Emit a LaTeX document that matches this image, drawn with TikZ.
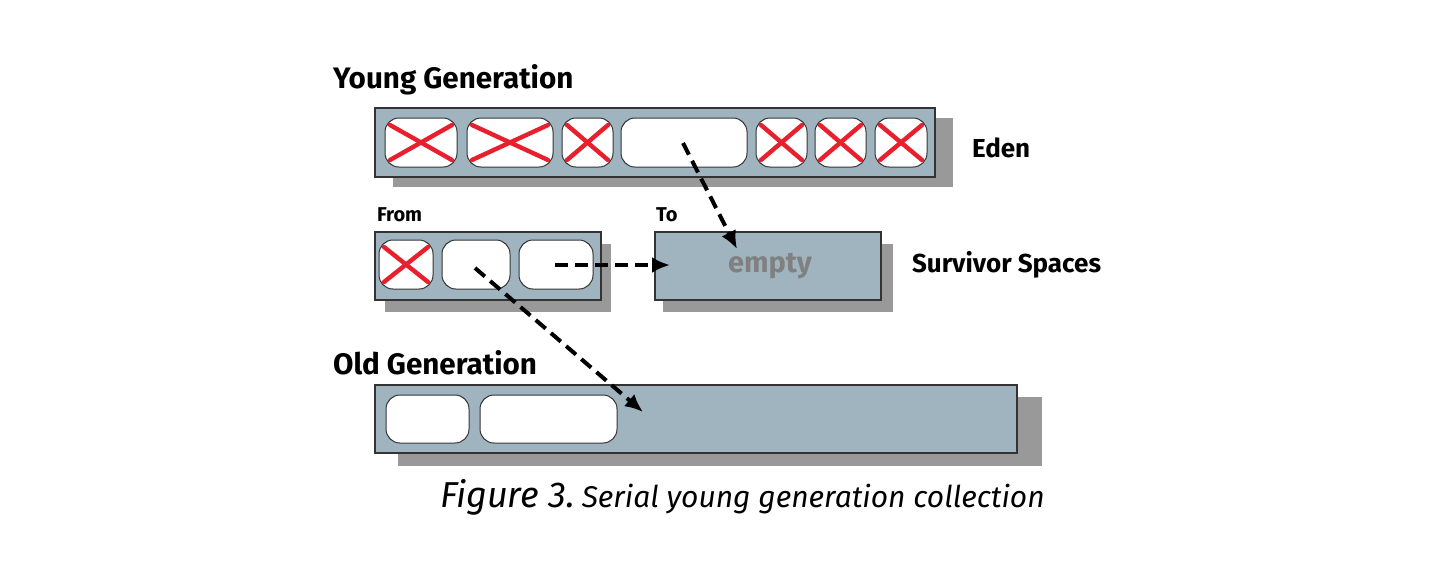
\documentclass[tikz,border=0pt]{standalone}
\usepackage{fontspec}
\setmainfont{Fira Sans}
\usetikzlibrary{arrows.meta}
\definecolor{boxc}{HTML}{9FB4BF}
\definecolor{shad}{HTML}{999999}
\definecolor{xred}{HTML}{E8202E}
\begin{document}
\begin{tikzpicture}[x=0.5pt,y=-0.5pt,
  box/.style={draw=black!80,line width=0.6pt,fill=boxc},
  cell/.style={draw=black!80,line width=0.5pt,fill=white,rounded corners=7pt},
  xx/.style={xred,line width=2.2pt,line cap=round},
  lab/.style={font=\fontsize{14.8}{16}\selectfont\bfseries,anchor=west},
  rlab/.style={font=\fontsize{13}{16}\selectfont\bfseries,anchor=west},
  slab/.style={font=\fontsize{10}{12}\selectfont\bfseries,anchor=west},
  arr/.style={line width=2pt,dash pattern=on 6.5pt off 3.5pt,-{Latex[length=9pt,width=8pt]}}]
\useasboundingbox (0,0) rectangle (1440,580);
\newcommand{\cellx}[5]{% name x1 y1 x2 y2
  \draw[cell] (#2,#3) rectangle (#4,#5);
  \coordinate (#1) at ({(#2+#4)/2},{(#3+#5)/2});}
\newcommand{\crossx}[4]{\draw[xx] (#1+5,#2+7) -- (#3-5,#4-7); \draw[xx] (#1+5,#4-7) -- (#3-5,#2+7);}
% Eden
\fill[shad] (393,118) rectangle (953,187);
\draw[box] (375,108) rectangle (935,177);
\cellx{e1}{385}{118}{457}{167}\crossx{385}{118}{457}{167}
\cellx{e2}{467}{118}{553}{167}\crossx{467}{118}{553}{167}
\cellx{e3}{562}{118}{613}{167}\crossx{562}{118}{613}{167}
\cellx{e4}{621}{118}{747}{167}
\cellx{e5}{756}{118}{807}{167}\crossx{756}{118}{807}{167}
\cellx{e6}{815}{118}{866}{167}\crossx{815}{118}{866}{167}
\cellx{e7}{875}{118}{927}{167}\crossx{875}{118}{927}{167}
% From
\fill[shad] (385,244) rectangle (611,312);
\draw[box] (375,232) rectangle (601,300);
\cellx{f1}{379}{240}{433}{289}\crossx{379}{240}{433}{289}
\cellx{f2}{442}{240}{510}{289}
\cellx{f3}{519}{240}{593}{289}
% To
\fill[shad] (663,244) rectangle (893,312);
\draw[box] (655,232) rectangle (881,300);
\node[font=\fontsize{14.5}{16}\selectfont\bfseries,text=black!50] (empty) at (770,266) {empty};
% Old
\fill[shad] (398,397) rectangle (1042,466);
\draw[box] (375,385) rectangle (1017,453);
\cellx{o1}{386}{395}{469}{443}
\cellx{o2}{480}{395}{617}{443}
% labels
\node[lab] (young) at (326,80) {Young Generation};
\node[rlab] (eden) at (965,148) {Eden};
\node[slab] (from) at (370,215) {From};
\node[slab] (to) at (649,215) {To};
\node[rlab] (surv) at (905,265) {Survivor Spaces};
\node[lab] (old) at (326,363) {Old Generation};
\node[anchor=west,font=\itshape] (cap) at (433,497) {{\fontsize{18}{20}\selectfont Figure 3.} {\fontsize{15}{18}\selectfont Serial young generation collection}};
% arrows
\coordinate (a1s) at (683,143); \coordinate (a1e) at (737,249);
\coordinate (a2s) at (555,265); \coordinate (a2e) at (670,265);
\coordinate (a3s) at (475,268); \coordinate (a3e) at (643,412);
\draw[arr] (a1s) -- (a1e);
\draw[arr] (a2s) -- (a2e);
\draw[arr] (a3s) -- (a3e);
\end{tikzpicture}
\end{document}
